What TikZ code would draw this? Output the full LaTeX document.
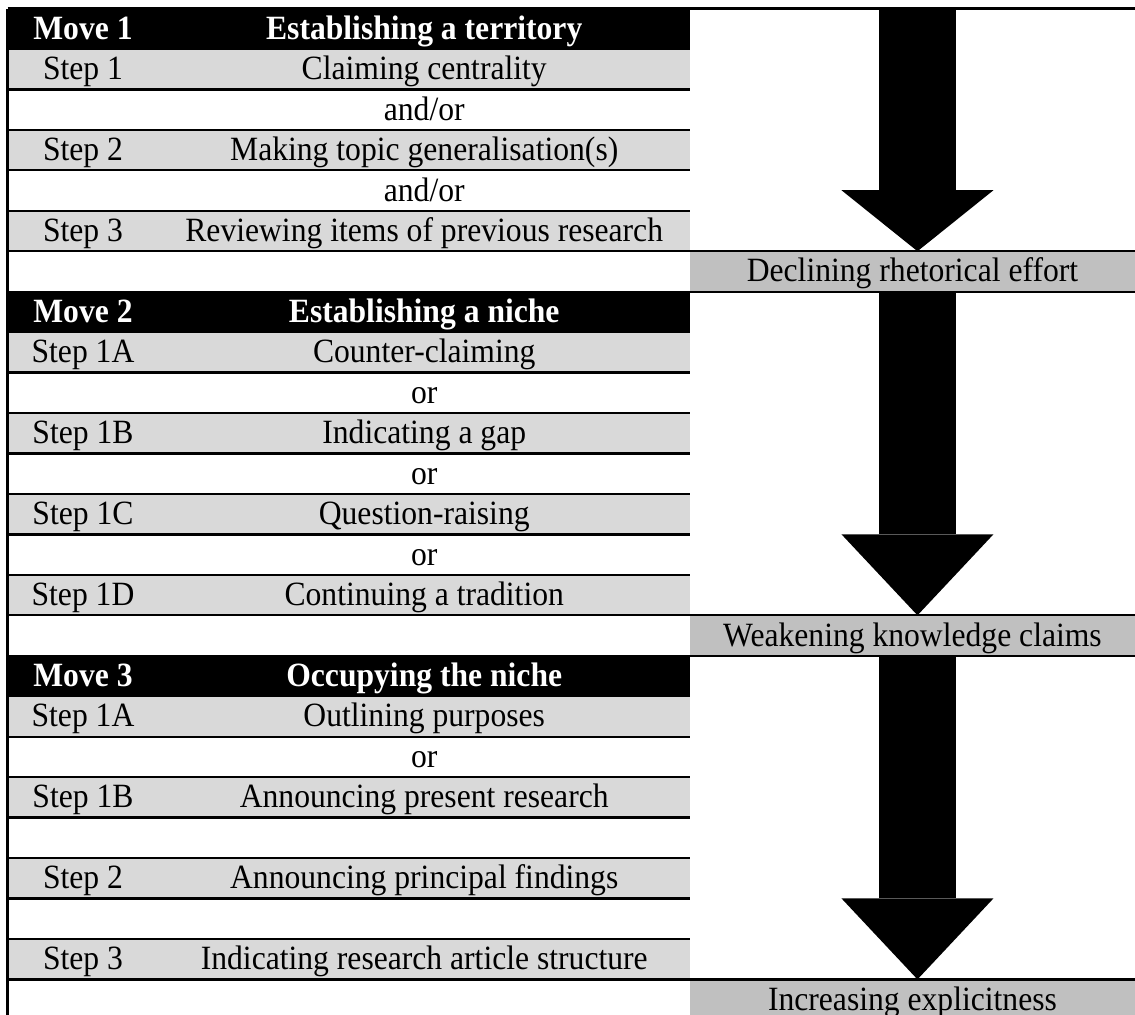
\documentclass[tikz,border=0pt]{standalone}
\usepackage{fontspec}
\setmainfont{Liberation Serif}[FakeStretch=0.93]
\usetikzlibrary{positioning, arrows.meta}
\definecolor{stepgrey}{RGB}{217,217,217}
\definecolor{notegrey}{RGB}{192,192,192}
\newcommand{\tabfont}{\fontsize{25.5pt}{30pt}\selectfont}
\newcommand{\cells}[2]{\makebox[113.25pt]{#1}\makebox[398.6pt]{#2}}

\begin{document}
\begin{tikzpicture}[node distance=0pt, x=1pt, y=1pt,
	row/.style={rectangle, inner sep=0pt, outer sep=0pt, minimum width=511.85pt, minimum height=30.34pt, text height=19pt, text depth=3.2pt, font=\tabfont, fill=white,
		path picture={\draw[line width=1.7pt] (path picture bounding box.north west) -- (path picture bounding box.north east) (path picture bounding box.south west) -- (path picture bounding box.south east);}},
	headrow/.style={row, fill=black, text=white, font=\tabfont\bfseries},
	steprow/.style={row, fill=stepgrey},
	note/.style={rectangle, inner sep=0pt, outer sep=0pt, minimum width=333.75pt, minimum height=30.34pt, text height=19pt, text depth=3.2pt, font=\tabfont, fill=notegrey},
	rule/.style={line width=1.7pt},
	frame/.style={line width=2.25pt},
	bigarrow/.style={line width=57.75pt, -{Triangle[width=114pt, length=#1, line width=0pt]}}]
	\useasboundingbox (0,0) rectangle (851.25,-760.5);
	\clip (0,0) rectangle (851.25,-760.5);
	% Move 1
	\node[headrow, anchor=north west] (m1) at (5.625,-6.375) {\cells{Move 1}{Establishing a territory}};
	\node[steprow, below=of m1] (m1s1) {\cells{Step 1}{Claiming centrality}};
	\node[row, below=of m1s1] (m1o1) {\cells{}{and/or}};
	\node[steprow, below=of m1o1] (m1s2) {\cells{Step 2}{Making topic generalisation(s)}};
	\node[row, below=of m1s2] (m1o2) {\cells{}{and/or}};
	\node[steprow, below=of m1o2] (m1s3) {\cells{Step 3}{Reviewing items of previous research}};
	\node[row, below=of m1s3] (m1gap) {};
	% Move 2
	\node[headrow, below=of m1gap] (m2) {\cells{Move 2}{Establishing a niche}};
	\node[steprow, below=of m2] (m2s1a) {\cells{Step 1A}{Counter-claiming}};
	\node[row, below=of m2s1a] (m2o1) {\cells{}{or}};
	\node[steprow, below=of m2o1] (m2s1b) {\cells{Step 1B}{Indicating a gap}};
	\node[row, below=of m2s1b] (m2o2) {\cells{}{or}};
	\node[steprow, below=of m2o2] (m2s1c) {\cells{Step 1C}{Question-raising}};
	\node[row, below=of m2s1c] (m2o3) {\cells{}{or}};
	\node[steprow, below=of m2o3] (m2s1d) {\cells{Step 1D}{Continuing a tradition}};
	\node[row, below=of m2s1d] (m2gap) {};
	% Move 3
	\node[headrow, below=of m2gap] (m3) {\cells{Move 3}{Occupying the niche}};
	\node[steprow, below=of m3] (m3s1a) {\cells{Step 1A}{Outlining purposes}};
	\node[row, below=of m3s1a] (m3o1) {\cells{}{or}};
	\node[steprow, below=of m3o1] (m3s1b) {\cells{Step 1B}{Announcing present research}};
	\node[row, below=of m3s1b] (m3b1) {};
	\node[steprow, below=of m3b1] (m3s2) {\cells{Step 2}{Announcing principal findings}};
	\node[row, below=of m3s2] (m3b2) {};
	\node[steprow, below=of m3b2] (m3s3) {\cells{Step 3}{Indicating research article structure}};
	\node[row, below=of m3s3] (m3gap) {};
	% trend labels
	\node[note, right=of m1gap] (effort) {Declining rhetorical effort};
	\node[note, right=of m2gap] (claims) {Weakening knowledge claims};
	\node[note, right=of m3gap] (explicit) {Increasing explicitness};
	% big arrows
	\coordinate[xshift=3.75pt] (a1) at (effort.north |- m1.north);
	\coordinate[xshift=3.75pt] (a2) at (effort.south);
	\coordinate[xshift=3.75pt] (a3) at (claims.south);
	\draw[bigarrow=45.75pt] (a1) -- (a1 |- effort.north);
	\draw[bigarrow=60.75pt] (a2) -- (a2 |- claims.north);
	\draw[bigarrow=60.75pt] (a3) -- (a3 |- explicit.north);
	% rules
	\draw[rule] (m1.north west) -- (m1.north west -| effort.east);
	\draw[rule] (effort.north west) -- (effort.north east) (effort.south west) -- (effort.south east);
	\draw[rule] (claims.north west) -- (claims.north east) (claims.south west) -- (claims.south east);
	\draw[rule] (explicit.north west) -- (explicit.north east) (explicit.south west) -- (explicit.south east);
	\draw[frame] (m1.north west) -- (m3gap.south west);
\end{tikzpicture}
\end{document}
